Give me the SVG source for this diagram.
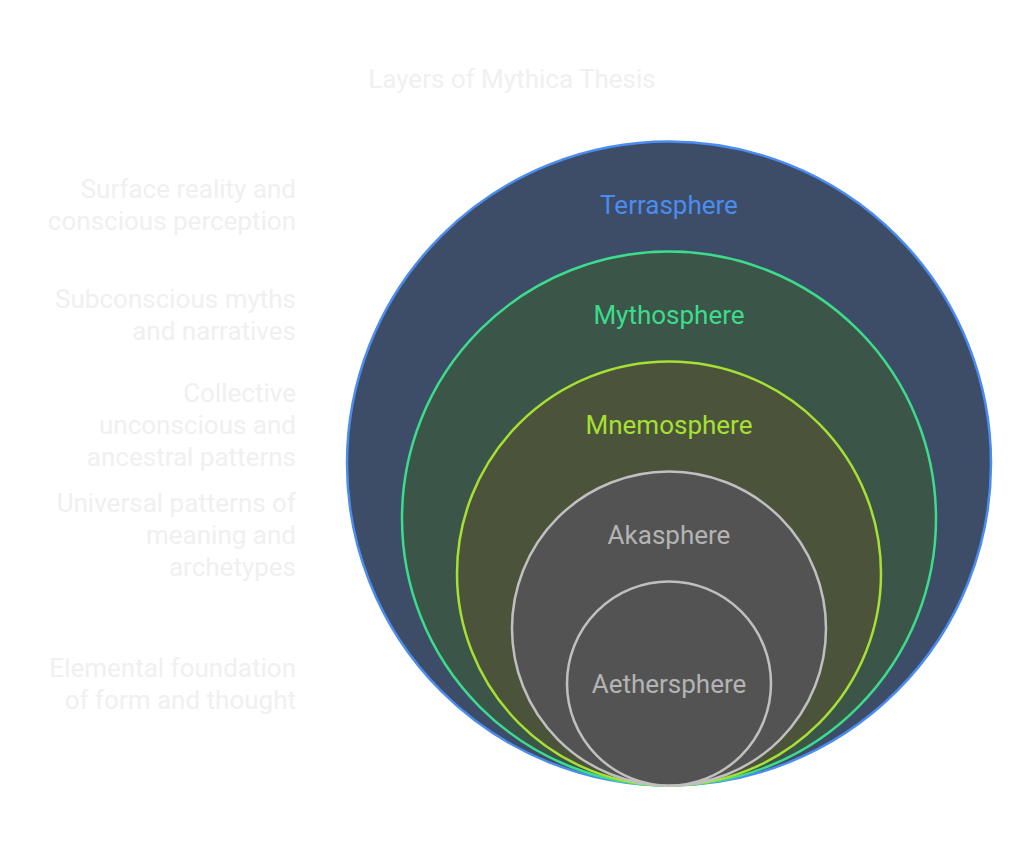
<svg xmlns="http://www.w3.org/2000/svg" width="1024" height="851" viewBox="0 0 1024 851">
<style>
text{font-family:Roboto,"Liberation Sans",sans-serif;font-size:26px}
.desc{fill:#f0f0f0;text-anchor:end}
.lbl{text-anchor:middle}
circle{stroke-width:2.5}
</style>
<rect width="1024" height="851" fill="#ffffff"/>
<text x="512" y="88" text-anchor="middle" fill="#f0f0f0">Layers of Mythica Thesis</text>
<g id="desc-terrasphere"><text class="desc" x="296" y="198">Surface reality and</text><text class="desc" x="296" y="230">conscious perception</text></g>
<g id="desc-mythosphere"><text class="desc" x="296" y="308">Subconscious myths</text><text class="desc" x="296" y="340">and narratives</text></g>
<g id="desc-mnemosphere"><text class="desc" x="296" y="402">Collective</text><text class="desc" x="296" y="434">unconscious and</text><text class="desc" x="296" y="466">ancestral patterns</text></g>
<g id="desc-akasphere"><text class="desc" x="296" y="512">Universal patterns of</text><text class="desc" x="296" y="544">meaning and</text><text class="desc" x="296" y="576">archetypes</text></g>
<g id="desc-aethersphere"><text class="desc" x="296" y="677">Elemental foundation</text><text class="desc" x="296" y="709">of form and thought</text></g>
<g id="terrasphere"><circle cx="669" cy="463.5" r="322" fill="#3d4d68" stroke="#4a8cf0"/><text class="lbl" x="669" y="214" fill="#4a8cf0">Terrasphere</text></g>
<g id="mythosphere"><circle cx="669" cy="518.5" r="267" fill="#3b5548" stroke="#3ddc8c"/><text class="lbl" x="669" y="324" fill="#3ddc8c">Mythosphere</text></g>
<g id="mnemosphere"><circle cx="669" cy="573.5" r="212" fill="#4b533a" stroke="#a6e034"/><text class="lbl" x="669" y="434" fill="#a6e034">Mnemosphere</text></g>
<g id="akasphere"><circle cx="669" cy="628.5" r="157" fill="#535353" stroke="#c0c0c0"/><text class="lbl" x="669" y="544" fill="#b4b4b4">Akasphere</text></g>
<g id="aethersphere"><circle cx="669" cy="683.5" r="102" fill="#535353" stroke="#c0c0c0"/><text class="lbl" x="669" y="693" fill="#b4b4b4">Aethersphere</text></g>
<g id="connectors"></g>
</svg>
